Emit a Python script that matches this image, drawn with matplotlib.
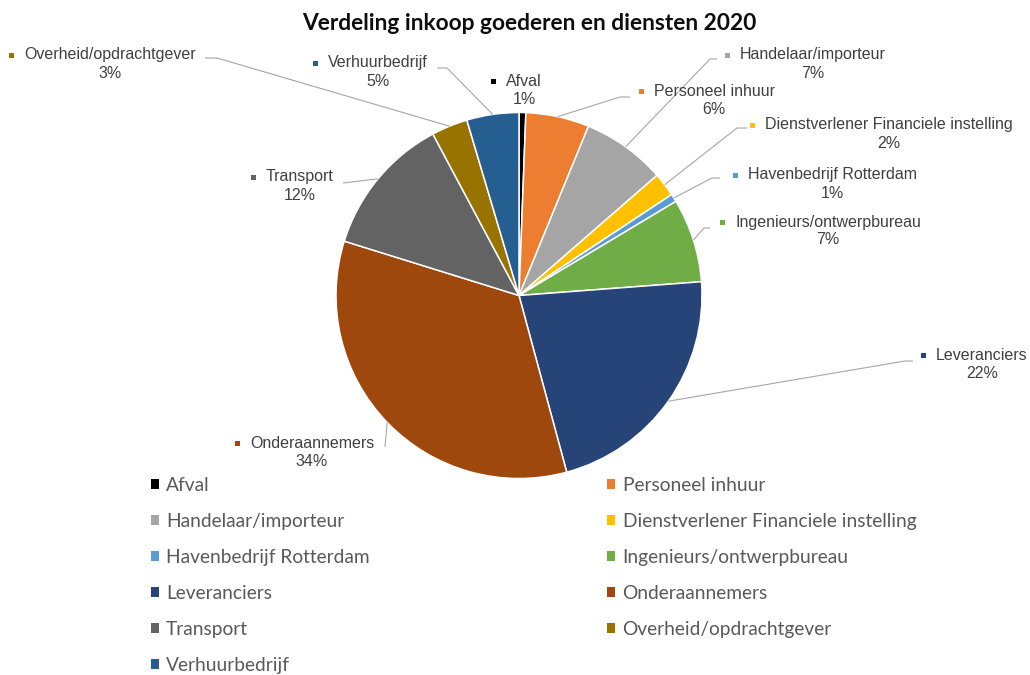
import matplotlib
matplotlib.use("Agg")
import matplotlib.pyplot as plt
import numpy as np

# ---------------- data ----------------
title = "Verdeling inkoop goederen en diensten 2020"
categories = ["Afval", "Personeel inhuur", "Handelaar/importeur",
              "Dienstverlener Financiele instelling", "Havenbedrijf Rotterdam",
              "Ingenieurs/ontwerpbureau", "Leveranciers", "Onderaannemers",
              "Transport", "Overheid/opdrachtgever", "Verhuurbedrijf"]
shares = [0.6, 5.6, 7.4, 2.1, 0.7, 7.4, 22.0, 34.0, 12.4, 3.2, 4.6]
colors = ["#000000", "#ED7D31", "#A5A5A5", "#FFC000", "#5B9BD5", "#70AD47",
          "#264478", "#9E480E", "#636363", "#997300", "#255E91"]

# ---------------- layout (pixels, origin top-left) ----------------
W, H = 1030, 675
CX, CY, R = 519, 295.5, 183
label_xy = [(524, 81), (714, 91), (813, 55), (889, 125), (832, 175),
            (828, 222), (982, 355), (312, 443), (300, 177), (110, 55), (378, 63)]
leader_pts = [None, [(630, 97), (620, 97)], [(717, 59), (710, 59)],
              [(747, 128), (737, 128)], [(720, 178), (712, 178)],
              [(710, 228), (704, 228)], [(913, 361), (905, 361)],
              [(385, 447)], [(343, 183)], [(205, 58), (217, 58)],
              [(437, 68), (447, 68)]]


def P(x, y):
    return x, H - y


fig = plt.figure(figsize=(W / 100, H / 100), dpi=100)
ax = fig.add_axes([0, 0, 1, 1])

wedges, _ = ax.pie(shares, colors=colors, startangle=90, counterclock=False,
                   center=P(CX, CY), radius=R,
                   wedgeprops=dict(edgecolor="white", linewidth=1.1))
ax.set_xlim(0, W)
ax.set_ylim(0, H)
ax.set_aspect("equal")
ax.axis("off")

total = sum(shares)
lab_font = dict(family="Liberation Sans", size=11.5, color="#404040")

fig.canvas.draw()
renderer = fig.canvas.get_renderer()

for i, (name, w) in enumerate(zip(categories, wedges)):
    lx, ly = label_xy[i]
    t = ax.text(*P(lx, ly), name, ha="center", va="center", **lab_font)
    ax.text(*P(lx, ly + 18), f"{round(shares[i] / total * 100)}%",
            ha="center", va="center", **lab_font)
    bb = t.get_window_extent(renderer=renderer)
    left_px = bb.x0
    ax.plot([left_px - 13], [H - ly], marker="s", markersize=3.6,
            color=colors[i], markeredgewidth=0, linestyle="none")
    # leader line
    if leader_pts[i] is not None:
        mid = np.deg2rad((w.theta1 + w.theta2) / 2)
        ax_x = CX + R * np.cos(mid)
        ax_y = H - CY + R * np.sin(mid)
        pts = [P(*p) for p in leader_pts[i]] + [(ax_x, ax_y)]
        xs, ys = zip(*pts)
        ax.plot(xs, ys, color="#A6A6A6", linewidth=0.8, solid_capstyle="butt")

fig.text(529 / W, 1 - 24 / H, title, ha="center", va="center",
         family="Lato", weight="bold", size=16.4, color="#0D0D0D")

# legend: row-major order in two columns
order = [0, 2, 4, 6, 8, 10, 1, 3, 5, 7, 9]
leg = fig.legend([wedges[k] for k in order], [categories[k] for k in order],
                 ncol=2, loc="upper left",
                 bbox_to_anchor=(151 / W, 1 - 477 / H),
                 bbox_transform=fig.transFigure, frameon=False,
                 prop=dict(family="Lato", size=13.8),
                 handlelength=0.42, handleheight=0.42, handletextpad=0.37,
                 labelspacing=0.99, columnspacing=12.4,
                 borderpad=0, borderaxespad=0)
for txt in leg.get_texts():
    txt.set_color("#595959")
for h in leg.legend_handles:
    h.set_edgecolor("none")

fig.savefig("out.png", dpi=100)
